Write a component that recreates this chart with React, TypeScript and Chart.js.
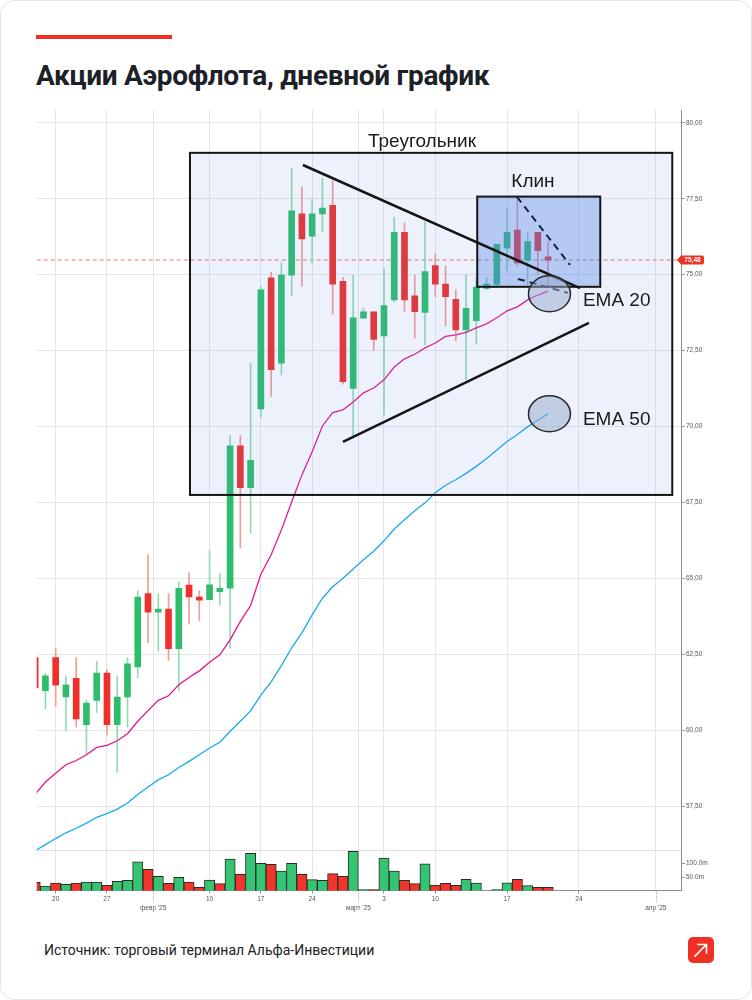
import React, { useEffect, useRef } from 'react';
import { Chart, registerables } from 'chart.js';

Chart.register(...registerables);

// ---------- DATA (slot index = trading day, 0 = 16 Jan 2025) ----------
const OPEN = [62.40, 61.31, 62.40, 61.10, 61.71, 60.19, 60.99, 61.89, 60.19, 61.10,
  62.09, 64.50, 63.89, 63.99, 62.69, 64.78, 64.39, 64.30, 64.57, 64.68,
  69.37, 67.99, 70.58, 74.90, 72.09, 74.98, 77.00, 76.27, 77.00, 77.28,
  74.78, 71.26, 73.57, 73.78, 72.98, 74.17, 76.39, 74.30, 73.76, 75.30,
  74.69, 74.19, 73.18, 73.49, 74.55, 74.68, 75.87, 76.47, 75.48, 76.39, 75.59];
const HIGH = [62.50, 61.89, 62.70, 61.80, 62.40, 61.00, 62.28, 62.00, 61.80, 62.40,
  64.59, 65.79, 64.50, 64.50, 64.89, 65.19, 64.59, 65.91, 65.18, 69.70,
  69.70, 72.09, 74.61, 75.08, 75.39, 78.50, 77.89, 77.49, 78.17, 78.09,
  74.91, 74.99, 73.89, 73.78, 75.21, 76.89, 76.71, 74.99, 76.74, 75.68,
  75.29, 74.50, 74.99, 74.91, 74.90, 76.00, 77.18, 77.57, 76.39, 76.39, 76.09];
const LOW = [61.30, 60.71, 60.80, 59.99, 60.11, 59.22, 60.59, 59.85, 58.62, 60.11,
  61.72, 62.89, 62.62, 62.30, 61.32, 63.50, 63.62, 64.30, 64.11, 62.71,
  66.00, 66.49, 70.31, 70.99, 71.70, 74.31, 74.61, 75.39, 76.41, 73.71,
  71.40, 69.67, 73.57, 72.50, 70.38, 74.10, 73.78, 72.91, 72.69, 74.28,
  73.31, 72.82, 71.54, 72.71, 74.50, 74.61, 75.15, 75.29, 74.66, 74.99, 74.61];
const CLOSE = [61.40, 61.80, 61.49, 61.50, 60.38, 60.90, 61.89, 60.19, 61.10, 62.19,
  64.39, 63.89, 63.99, 62.69, 64.68, 64.39, 64.29, 64.79, 64.68, 69.37,
  67.99, 68.89, 74.50, 71.87, 74.99, 77.10, 76.18, 77.00, 77.19, 74.69,
  71.48, 73.58, 73.78, 72.87, 73.98, 76.39, 74.17, 73.78, 75.10, 74.69,
  74.28, 73.18, 73.89, 74.59, 74.69, 76.00, 76.39, 75.39, 76.09, 75.79, 75.48];
const VOLUME_M = [31, 17, 28.5, 23.5, 28.5, 32, 32, 20, 35, 38.5,
  107, 79, 53, 27, 49.5, 32, 12.5, 39.5, 26, 117,
  60.5, 138.5, 101.5, 97.5, 73, 101.5, 60.5, 41, 38.5, 63,
  53, 146, 1.5, 1.5, 121, 73, 38.5, 26, 99, 21,
  27, 20, 42, 28.5, 0, 1, 29.5, 42, 18.5, 12.5, 12.5];
const EMA20 = [57.90, 58.30, 58.59, 58.87, 59.01, 59.20, 59.44, 59.51, 59.66, 59.89,
  60.30, 60.65, 60.99, 61.14, 61.50, 61.74, 61.96, 62.24, 62.49, 62.98,
  63.59, 64.11, 65.14, 65.78, 66.60, 67.52, 68.41, 69.17, 70.02, 70.46,
  70.55, 70.81, 71.11, 71.27, 71.54, 71.96, 72.23, 72.38, 72.59, 72.75,
  72.97, 73.02, 73.10, 73.25, 73.38, 73.58, 73.81, 73.94, 74.17, 74.33, 74.46];
const EMA50 = [56.04, 56.24, 56.44, 56.63, 56.78, 56.95, 57.14, 57.26, 57.41, 57.61,
  57.89, 58.14, 58.37, 58.54, 58.78, 58.98, 59.20, 59.42, 59.61, 59.97,
  60.30, 60.64, 61.16, 61.60, 62.13, 62.72, 63.21, 63.80, 64.35, 64.73,
  65.01, 65.31, 65.62, 65.90, 66.24, 66.63, 66.93, 67.23, 67.49, 67.82,
  68.07, 68.25, 68.46, 68.69, 68.95, 69.23, 69.51, 69.74, 69.99, 70.21, 70.42];

const X_TICK_POS = [2, 7, 11.5, 17, 22, 27, 31.5, 34, 39, 46, 53, 60.5];
const X_TICK_LABELS = ['20', '27', "февр '25", '10', '17', '24', "март '25", '3', '10', '17', '24', "апр '25"];
const PRICE_TICKS = [57.5, 60, 62.5, 65, 67.5, 70, 72.5, 75, 77.5, 80];
const VOLUME_TICKS_M = [50, 100];
const LAST_PRICE = 75.48;
const X_MIN = 0.15;
const X_MAX = 62.95;
const PRICE_MIN = 56.04;
const PRICE_MAX = 80.42;
const VOLUME_MAX_M = 148;

// chart annotations in data coordinates (slot index, price)
const TRIANGLE_BOX = [15.09, 79.01, 62.1, 67.75];
const WEDGE_BOX = [43.09, 77.57, 55.08, 74.6];
const TRIANGLE_UPPER = [[26.1, 78.61], [53.1, 74.56]];
const TRIANGLE_LOWER = [[30.0, 69.5], [53.98, 73.41]];
const WEDGE_UPPER = [[46.96, 77.56], [52.13, 75.32]];
const WEDGE_LOWER = [[47.06, 74.86], [51.93, 74.4]];
const EMA_MARKERS = [[50.13, 74.37], [50.13, 70.42]];
const ANNOTATION_TEXTS = [
  { text: 'Треугольник', x: 37.7, y: 79.37, align: 'center' },
  { text: 'Клин', x: 48.52, y: 78.05, align: 'center' },
  { text: 'EMA 20', x: 53.39, y: 74.13, align: 'left' },
  { text: 'EMA 50', x: 53.39, y: 70.22, align: 'left' },
];

const GREEN = '#2ebd6b';
const RED = '#f0302a';
const GREEN_WICK = '#93dbb1';
const RED_WICK = '#f59c95';
const AXIS_FONT = { size: 6.5, family: '"Liberation Sans", Arial, sans-serif' };
const isMonthTick = (v: number) => {
  const i = X_TICK_POS.indexOf(v);
  return i >= 0 && X_TICK_LABELS[i].includes("'");
};

const overlayPlugin = {
  id: 'overlay',
  beforeDatasetsDraw(chart: any) {
    const { ctx, chartArea, scales } = chart;
    const py = scales.y.getPixelForValue(LAST_PRICE);
    ctx.save();
    ctx.strokeStyle = 'rgba(240,70,60,0.75)';
    ctx.lineWidth = 1;
    ctx.setLineDash([4, 3]);
    ctx.beginPath();
    ctx.moveTo(chartArea.left, py);
    ctx.lineTo(chartArea.right, py);
    ctx.stroke();
    ctx.restore();
  },
  afterDatasetsDraw(chart: any) {
    const { ctx, scales } = chart;
    const X = (v: number) => scales.x.getPixelForValue(v);
    const Y = (v: number) => scales.y.getPixelForValue(v);
    ctx.save();
    const rect = (b: number[], fill: string, lw: number) => {
      const x0 = X(b[0]), y0 = Y(b[1]), x1 = X(b[2]), y1 = Y(b[3]);
      ctx.fillStyle = fill;
      ctx.fillRect(x0, y0, x1 - x0, y1 - y0);
      ctx.strokeStyle = '#151515';
      ctx.lineWidth = lw;
      ctx.strokeRect(x0, y0, x1 - x0, y1 - y0);
    };
    rect(TRIANGLE_BOX, 'rgba(100,140,230,0.12)', 2);
    rect(WEDGE_BOX, 'rgba(80,130,230,0.36)', 2);
    const seg = (p: number[][], color: string, lw: number, dash: number[]) => {
      ctx.strokeStyle = color;
      ctx.lineWidth = lw;
      ctx.setLineDash(dash);
      ctx.beginPath();
      ctx.moveTo(X(p[0][0]), Y(p[0][1]));
      ctx.lineTo(X(p[1][0]), Y(p[1][1]));
      ctx.stroke();
    };
    seg(TRIANGLE_UPPER, '#151515', 2.5, []);
    seg(TRIANGLE_LOWER, '#151515', 2.5, []);
    seg(WEDGE_UPPER, '#16223d', 2, [7, 5]);
    seg(WEDGE_LOWER, '#16223d', 2, [7, 5]);
    ctx.setLineDash([]);
    for (const [mx, my] of EMA_MARKERS) {
      ctx.beginPath();
      ctx.ellipse(X(mx), Y(my), 21, 18, 0, 0, Math.PI * 2);
      ctx.fillStyle = 'rgba(150,168,205,0.5)';
      ctx.fill();
      ctx.strokeStyle = '#2a2a2a';
      ctx.lineWidth = 1.5;
      ctx.stroke();
    }
    ctx.fillStyle = '#1a1a1a';
    ctx.font = '19px "Liberation Sans", Arial, sans-serif';
    ctx.textBaseline = 'middle';
    for (const t of ANNOTATION_TEXTS) {
      ctx.textAlign = t.align;
      ctx.fillText(t.text, X(t.x), Y(t.y));
    }
    ctx.restore();
  },
  afterDraw(chart: any) {
    const { ctx, chartArea, scales } = chart;
    ctx.save();
    ctx.strokeStyle = '#999';
    ctx.lineWidth = 1;
    ctx.setLineDash([1, 1.5]);
    for (const v of X_TICK_POS) {
      if (!isMonthTick(v)) continue;
      const x = Math.round(scales.x.getPixelForValue(v)) + 0.5;
      ctx.beginPath();
      ctx.moveTo(x, chartArea.bottom);
      ctx.lineTo(x, chartArea.bottom + 12);
      ctx.stroke();
    }
    ctx.setLineDash([]);
    const py = scales.y.getPixelForValue(LAST_PRICE);
    const r = chartArea.right;
    ctx.fillStyle = '#ef3124';
    ctx.beginPath();
    ctx.moveTo(r - 4, py);
    ctx.lineTo(r, py - 4.5);
    ctx.lineTo(r + 21, py - 4.5);
    ctx.quadraticCurveTo(r + 23, py - 4.5, r + 23, py - 2.5);
    ctx.lineTo(r + 23, py + 2.5);
    ctx.quadraticCurveTo(r + 23, py + 4.5, r + 21, py + 4.5);
    ctx.lineTo(r, py + 4.5);
    ctx.closePath();
    ctx.fill();
    ctx.fillStyle = '#fff';
    ctx.font = 'bold 6.5px "Liberation Sans", Arial, sans-serif';
    ctx.textAlign = 'center';
    ctx.textBaseline = 'middle';
    ctx.fillText(LAST_PRICE.toFixed(2).replace('.', ','), r + 11.5, py + 0.5);
    ctx.restore();
  },
};

export default function App() {
  const ref = useRef<HTMLCanvasElement>(null);

  useEffect(() => {
    const canvas = ref.current;
    if (!canvas) return;
    const idx = CLOSE.map((_, i) => i);
    const up = idx.map((i) => CLOSE[i] >= OPEN[i]);
    const volUp = idx.map((i) => CLOSE[i] >= (i > 0 ? CLOSE[i - 1] : OPEN[i]));

    const chart = new Chart(canvas, {
      type: 'bar',
      data: {
        datasets: [
          {
            type: 'line', label: 'EMA 20', yAxisID: 'y', order: 1,
            data: EMA20.map((v, i) => ({ x: i, y: v })),
            borderColor: '#e5178c', borderWidth: 1.3, pointRadius: 0, tension: 0,
          },
          {
            type: 'line', label: 'EMA 50', yAxisID: 'y', order: 1,
            data: EMA50.map((v, i) => ({ x: i, y: v })),
            borderColor: '#1ba9ea', borderWidth: 1.3, pointRadius: 0, tension: 0,
          },
          {
            type: 'bar', label: 'body', yAxisID: 'y', order: 2, grouped: false,
            data: idx.map((i) => ({ x: i, y: [OPEN[i], CLOSE[i]] })),
            backgroundColor: up.map((u) => (u ? GREEN : RED)),
            barThickness: 6, minBarLength: 1,
          },
          {
            type: 'bar', label: 'wick', yAxisID: 'y', order: 3, grouped: false,
            data: idx.map((i) => ({ x: i, y: [LOW[i], HIGH[i]] })),
            backgroundColor: up.map((u) => (u ? GREEN_WICK : RED_WICK)),
            barThickness: 1,
          },
          {
            type: 'bar', label: 'volume', yAxisID: 'yv', order: 4, grouped: false,
            data: idx.map((i) => ({ x: i, y: VOLUME_M[i] || null })),
            backgroundColor: volUp.map((u) => (u ? '#34c472' : '#f2352b')),
            borderColor: '#2a2a2a', borderWidth: 1, minBarLength: 1,
            barPercentage: 1, categoryPercentage: 1,
          },
        ],
      } as any,
      options: {
        animation: false,
        responsive: false,
        devicePixelRatio: 1,
        layout: { padding: { left: 36.7, top: 10, right: 0, bottom: 0 } },
        plugins: { legend: { display: false }, tooltip: { enabled: false } },
        scales: {
          x: {
            type: 'linear', min: X_MIN, max: X_MAX, offset: false,
            afterBuildTicks: (s: any) => { s.ticks = X_TICK_POS.map((v) => ({ value: v })); },
            afterFit: (s: any) => { s.height = 39.3; },
            grid: {
              offset: false, color: '#e6e6e6', tickLength: 3,
              tickColor: (c: any) => (c.tick && isMonthTick(c.tick.value) ? 'rgba(0,0,0,0)' : '#999'),
            },
            border: { color: '#8e8e8e' },
            ticks: {
              autoSkip: false, maxRotation: 0, padding: 1, color: '#555',
              font: { ...AXIS_FONT, lineHeight: 1.4 },
              callback: (v: any) => {
                const i = X_TICK_POS.indexOf(Number(v));
                if (i < 0) return '';
                return isMonthTick(Number(v)) ? ['', X_TICK_LABELS[i]] : X_TICK_LABELS[i];
              },
            },
          },
          y: {
            type: 'linear', position: 'right', stack: 'panes', stackWeight: 741,
            min: PRICE_MIN, max: PRICE_MAX,
            afterBuildTicks: (s: any) => { s.ticks = PRICE_TICKS.map((v) => ({ value: v })); },
            afterFit: (s: any) => { s.width = 71; },
            grid: { color: '#e6e6e6', tickLength: 4, tickColor: '#999' },
            border: { color: '#8e8e8e' },
            ticks: {
              autoSkip: false, padding: 1, color: '#555', font: AXIS_FONT,
              callback: (v: any) => Number(v).toFixed(2).replace('.', ','),
            },
          },
          yv: {
            type: 'linear', position: 'right', stack: 'panes', stackWeight: 40,
            min: 0, max: VOLUME_MAX_M,
            afterBuildTicks: (s: any) => {
              s.ticks = [...VOLUME_TICKS_M, VOLUME_MAX_M].map((v) => ({ value: v }));
            },
            afterFit: (s: any) => { s.width = 71; },
            grid: {
              tickLength: 4,
              color: (c: any) => (c.tick && c.tick.value === VOLUME_MAX_M ? '#e0e0e0' : 'rgba(0,0,0,0)'),
              tickColor: (c: any) => (c.tick && c.tick.value === VOLUME_MAX_M ? 'rgba(0,0,0,0)' : '#999'),
            },
            border: { color: '#8e8e8e' },
            ticks: {
              autoSkip: false, padding: 1, color: '#555', font: AXIS_FONT,
              callback: (v: any) => (Number(v) === VOLUME_MAX_M ? '' : Number(v).toFixed(1) + 'm'),
            },
          },
        },
      } as any,
      plugins: [overlayPlugin],
    });
    return () => chart.destroy();
  }, []);

  return (
    <div style={{ position: 'absolute', left: 0, top: 0, width: 752, height: 1000, background: '#fff', overflow: 'hidden', fontFamily: 'Roboto, "Noto Sans", sans-serif' }}>
      <div style={{ position: 'absolute', left: 36, top: 35, width: 136, height: 4, background: '#ef3124' }} />
      <div style={{ position: 'absolute', left: 36, top: 62, fontSize: 28, lineHeight: '28px', fontWeight: 700, letterSpacing: -0.3, color: '#1c2127', whiteSpace: 'nowrap' }}>
        Акции Аэрофлота, дневной график
      </div>
      <canvas ref={ref} width={752} height={830} style={{ position: 'absolute', left: 0, top: 100 }} />
      <div style={{ position: 'absolute', left: 44, top: 943, fontSize: 14, lineHeight: '14px', color: '#222', whiteSpace: 'nowrap' }}>
        Источник: торговый терминал Альфа-Инвестиции
      </div>
      <svg width={26} height={26} viewBox="0 0 26 26" style={{ position: 'absolute', left: 688, top: 937 }}>
        <rect x={0} y={0} width={26} height={26} rx={5} fill="#ef3124" />
        <path d="M7 19 L18 8 M10 7.5 H18.5 V16" stroke="#fff" strokeWidth={1.6} fill="none" strokeLinecap="square" />
      </svg>
      <div style={{ position: 'absolute', left: 0, top: 0, width: 752, height: 1000, boxSizing: 'border-box', border: '1px solid #e6e6e6', borderRadius: 14, pointerEvents: 'none' }} />
    </div>
  );
}
